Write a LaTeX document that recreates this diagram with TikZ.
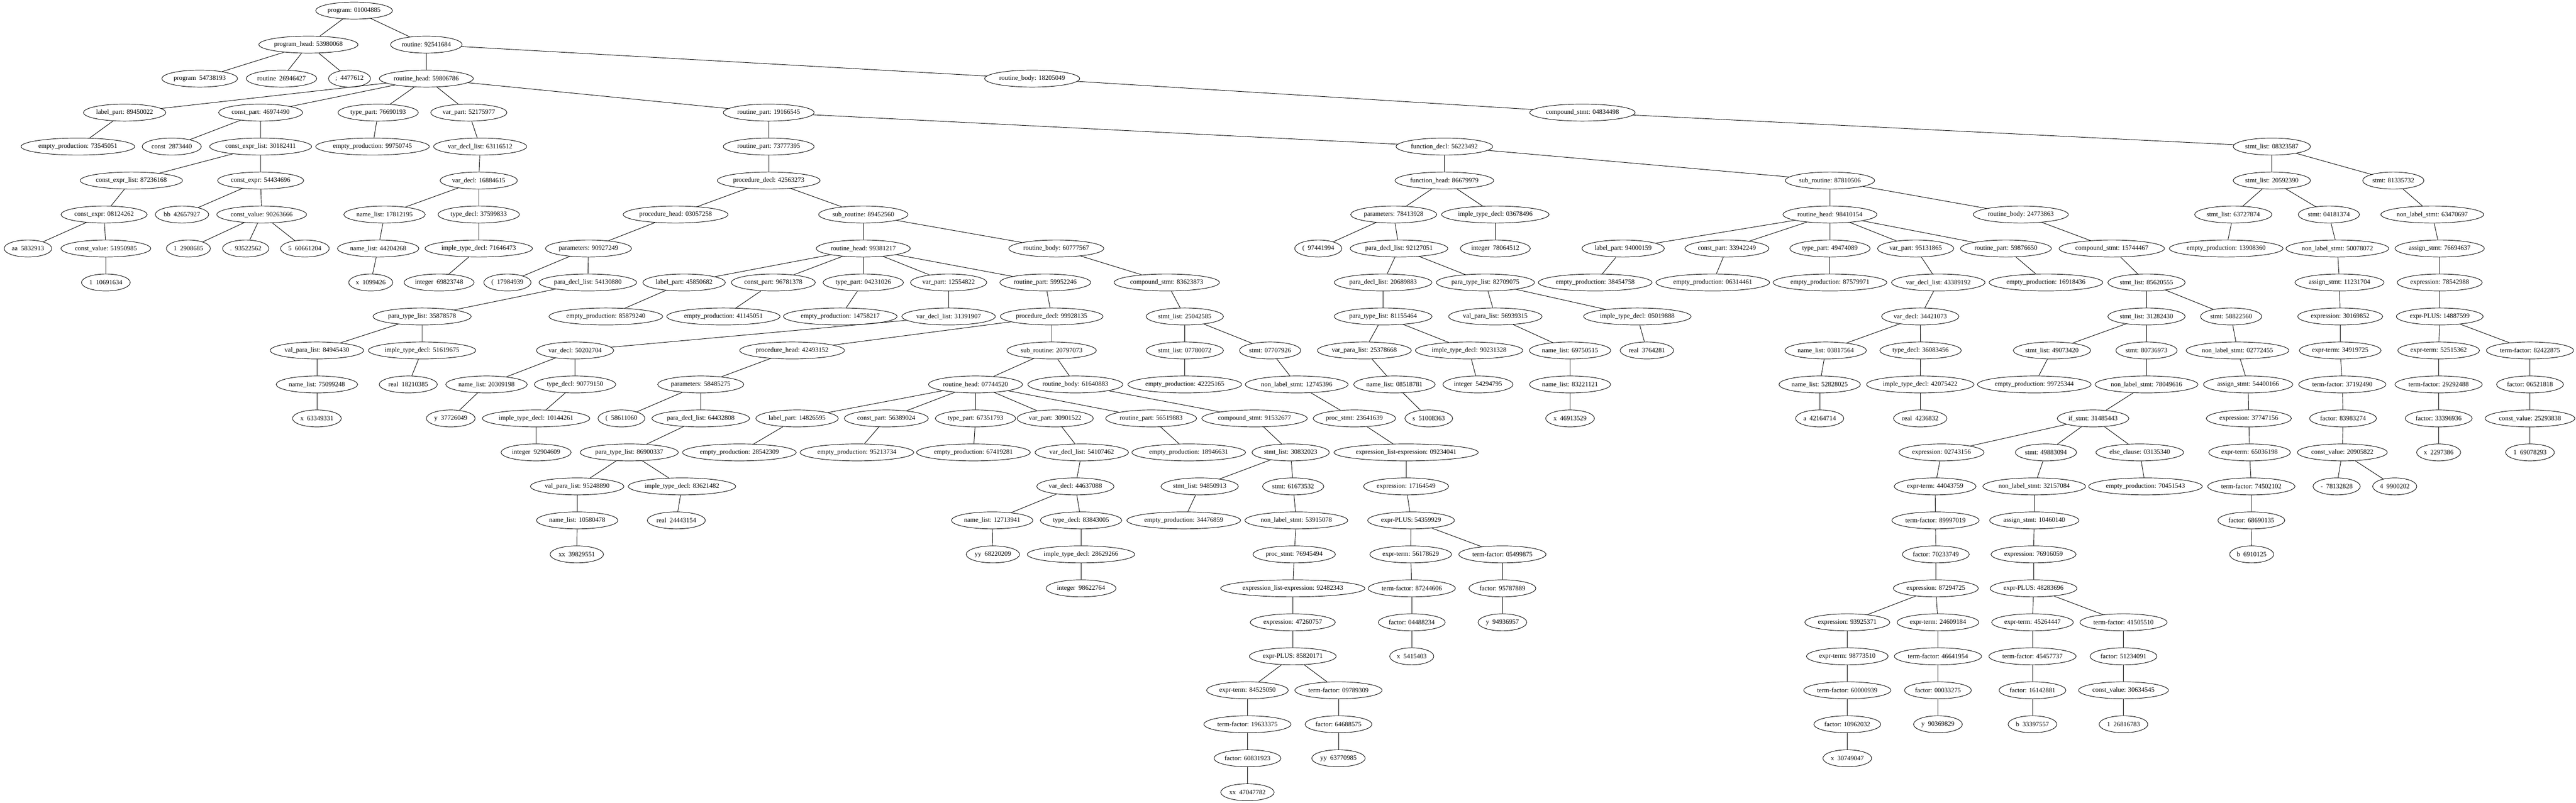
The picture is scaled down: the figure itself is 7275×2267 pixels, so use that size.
\documentclass[tikz,border=0pt]{standalone}
\usepackage{fontspec}
\setmainfont{Liberation Serif}
\usepackage{tikz}
\usetikzlibrary{shapes.geometric}

\begin{document}
\begin{tikzpicture}[x=0.75pt, y=-0.75pt,
	tn/.style={draw, ellipse, line width=1pt, inner xsep=1.5pt, inner ysep=0pt, minimum height=36pt, minimum width=54pt, font=\fontsize{14}{16}\selectfont},
	lk/.style={line width=1pt}]
			%%%%% START %%%%%
			\useasboundingbox (0, 0) rectangle (7275, 2267);
			
			% rank 0 - 2
			\node[tn] (n01004885) at (1000, 30) {program: 01004885};
			\node[tn] (n53980068) at (871, 126) {program\_head: 53980068};
			\node[tn] (n92541684) at (1204, 126) {routine: 92541684};
			\node[tn] (n54738193) at (564, 222) {program~~54738193};
			\node[tn] (n26946427) at (795, 222) {routine~~26946427};
			\node[tn] (n4477612) at (987, 222) {;~~4477612};
			\node[tn] (n59806786) at (1204, 222) {routine\_head: 59806786};
			\node[tn] (n18205049) at (2915, 222) {routine\_body: 18205049};
			
			% rank 3
			\node[tn] (n89450022) at (352, 318) {label\_part: 89450022};
			\node[tn] (n46974490) at (736, 318) {const\_part: 46974490};
			\node[tn] (n76690193) at (1068, 318) {type\_part: 76690193};
			\node[tn] (n52175977) at (1324, 318) {var\_part: 52175977};
			\node[tn] (n19166545) at (2171, 318) {routine\_part: 19166545};
			\node[tn] (n04834498) at (4469, 318) {compound\_stmt: 04834498};
			
			% rank 4
			\node[tn] (n73545051) at (220, 414) {empty\_production: 73545051};
			\node[tn] (n2873440) at (485, 414) {const~~2873440};
			\node[tn] (n30182411) at (736, 414) {const\_expr\_list: 30182411};
			\node[tn] (n99750745) at (1052, 414) {empty\_production: 99750745};
			\node[tn] (n63116512) at (1356, 414) {var\_decl\_list: 63116512};
			\node[tn] (n73777395) at (2171, 414) {routine\_part: 73777395};
			\node[tn] (n56223492) at (4079, 414) {function\_decl: 56223492};
			\node[tn] (n08323587) at (6416, 414) {stmt\_list: 08323587};
			
			% rank 5
			\node[tn] (n87236168) at (371, 510) {const\_expr\_list: 87236168};
			\node[tn] (n54434696) at (736, 510) {const\_expr: 54434696};
			\node[tn] (n16884615) at (1352, 510) {var\_decl: 16884615};
			\node[tn] (n42563273) at (2171, 510) {procedure\_decl: 42563273};
			\node[tn] (n86679979) at (4079, 510) {function\_head: 86679979};
			\node[tn] (n87810506) at (5168, 510) {sub\_routine: 87810506};
			\node[tn] (n20592390) at (6416, 510) {stmt\_list: 20592390};
			\node[tn] (n81335732) at (6759, 510) {stmt: 81335732};
			
			% rank 6
			\node[tn] (n08124262) at (294, 606) {const\_expr: 08124262};
			\node[tn] (n42657927) at (514, 606) {bb~~42657927};
			\node[tn] (n90263666) at (739, 606) {const\_value: 90263666};
			\node[tn] (n17812195) at (1086, 606) {name\_list: 17812195};
			\node[tn] (n37599833) at (1352, 606) {type\_decl: 37599833};
			\node[tn] (n03057258) at (1908, 606) {procedure\_head: 03057258};
			\node[tn] (n89452560) at (2438, 606) {sub\_routine: 89452560};
			\node[tn] (n78413928) at (3936, 606) {parameters: 78413928};
			\node[tn] (n03678496) at (4223, 606) {imple\_type\_decl: 03678496};
			\node[tn] (n98410154) at (5168, 606) {routine\_head: 98410154};
			\node[tn] (n24773863) at (5707, 606) {routine\_body: 24773863};
			\node[tn] (n63727874) at (6307, 606) {stmt\_list: 63727874};
			\node[tn] (n04181374) at (6577, 606) {stmt: 04181374};
			\node[tn] (n63470697) at (6869, 606) {non\_label\_stmt: 63470697};
			
			% rank 7
			\node[tn] (n5832913) at (79, 702) {aa~~5832913};
			\node[tn] (n51950985) at (299, 702) {const\_value: 51950985};
			\node[tn] (n2908685) at (532, 702) {1~~2908685};
			\node[tn] (n93522562) at (694, 702) {.~~93522562};
			\node[tn] (n60661204) at (861, 702) {5~~60661204};
			\node[tn] (n44204268) at (1068, 702) {name\_list: 44204268};
			\node[tn] (n71646473) at (1352, 702) {imple\_type\_decl: 71646473};
			\node[tn] (n90927249) at (1662, 702) {parameters: 90927249};
			\node[tn] (n99381217) at (2438, 702) {routine\_head: 99381217};
			\node[tn] (n60777567) at (2983, 702) {routine\_body: 60777567};
			\node[tn] (n97441994) at (3723, 702) {(~~97441994};
			\node[tn] (n92127051) at (3951, 702) {para\_decl\_list: 92127051};
			\node[tn] (n78064512) at (4223, 702) {integer~~78064512};
			\node[tn] (n94000159) at (4584, 702) {label\_part: 94000159};
			\node[tn] (n33942249) at (4877, 702) {const\_part: 33942249};
			\node[tn] (n49474089) at (5168, 702) {type\_part: 49474089};
			\node[tn] (n95131865) at (5410, 702) {var\_part: 95131865};
			\node[tn] (n59876650) at (5665, 702) {routine\_part: 59876650};
			\node[tn] (n15744467) at (5964, 702) {compound\_stmt: 15744467};
			\node[tn] (n13908360) at (6287, 702) {empty\_production: 13908360};
			\node[tn] (n50078072) at (6601, 702) {non\_label\_stmt: 50078072};
			\node[tn] (n76694637) at (6890, 702) {assign\_stmt: 76694637};
			
			% rank 8
			\node[tn] (n10691634) at (299, 798) {1~~10691634};
			\node[tn] (n1099426) at (1047, 798) {x~~1099426};
			\node[tn] (n69823748) at (1240, 798) {integer~~69823748};
			\node[tn] (n17984939) at (1433, 798) {(~~17984939};
			\node[tn] (n54130880) at (1660, 798) {para\_decl\_list: 54130880};
			\node[tn] (n45850682) at (1932, 798) {label\_part: 45850682};
			\node[tn] (n96781378) at (2184, 798) {const\_part: 96781378};
			\node[tn] (n04231026) at (2438, 798) {type\_part: 04231026};
			\node[tn] (n12554822) at (2679, 798) {var\_part: 12554822};
			\node[tn] (n59952246) at (2952, 798) {routine\_part: 59952246};
			\node[tn] (n83623873) at (3295, 798) {compound\_stmt: 83623873};
			\node[tn] (n20689883) at (3906, 798) {para\_decl\_list: 20689883};
			\node[tn] (n82709075) at (4195, 798) {para\_type\_list: 82709075};
			\node[tn] (n38454758) at (4505, 798) {empty\_production: 38454758};
			\node[tn] (n06314461) at (4837, 798) {empty\_production: 06314461};
			\node[tn] (n87579971) at (5168, 798) {empty\_production: 87579971};
			\node[tn] (n43389192) at (5474, 798) {var\_decl\_list: 43389192};
			\node[tn] (n16918436) at (5778, 798) {empty\_production: 16918436};
			\node[tn] (n85620555) at (6062, 798) {stmt\_list: 85620555};
			\node[tn] (n11231704) at (6607, 798) {assign\_stmt: 11231704};
			\node[tn] (n78542988) at (6890, 798) {expression: 78542988};
			
			% rank 9
			\node[tn] (n35878578) at (1192, 894) {para\_type\_list: 35878578};
			\node[tn] (n85879240) at (1711, 894) {empty\_production: 85879240};
			\node[tn] (n41145051) at (2043, 894) {empty\_production: 41145051};
			\node[tn] (n14758217) at (2373, 894) {empty\_production: 14758217};
			\node[tn] (n31391907) at (2679, 894) {var\_decl\_list: 31391907};
			\node[tn] (n99928135) at (2970, 894) {procedure\_decl: 99928135};
			\node[tn] (n25042585) at (3346, 894) {stmt\_list: 25042585};
			\node[tn] (n81155464) at (3906, 894) {para\_type\_list: 81155464};
			\node[tn] (n56939315) at (4223, 894) {val\_para\_list: 56939315};
			\node[tn] (n05019888) at (4624, 894) {imple\_type\_decl: 05019888};
			\node[tn] (n34421073) at (5423, 894) {var\_decl: 34421073};
			\node[tn] (n31282430) at (6062, 894) {stmt\_list: 31282430};
			\node[tn] (n58822560) at (6301, 894) {stmt: 58822560};
			\node[tn] (n30169852) at (6609, 894) {expression: 30169852};
			\node[tn] (n14887599) at (6890, 894) {expr-PLUS: 14887599};
			
			% rank 10
			\node[tn] (n84945430) at (895, 990) {val\_para\_list: 84945430};
			\node[tn] (n51619675) at (1192, 990) {imple\_type\_decl: 51619675};
			\node[tn] (n50202704) at (1624, 990) {var\_decl: 50202704};
			\node[tn] (n42493152) at (2237, 990) {procedure\_head: 42493152};
			\node[tn] (n20797073) at (2970, 990) {sub\_routine: 20797073};
			\node[tn] (n07780072) at (3346, 990) {stmt\_list: 07780072};
			\node[tn] (n07707926) at (3587, 990) {stmt: 07707926};
			\node[tn] (n25378668) at (3853, 990) {var\_para\_list: 25378668};
			\node[tn] (n90231328) at (4149, 990) {imple\_type\_decl: 90231328};
			\node[tn] (n69750515) at (4434, 990) {name\_list: 69750515};
			\node[tn] (n3764281) at (4651, 990) {real~~3764281};
			\node[tn] (n03817564) at (5156, 990) {name\_list: 03817564};
			\node[tn] (n36083456) at (5424, 990) {type\_decl: 36083456};
			\node[tn] (n49073420) at (5795, 990) {stmt\_list: 49073420};
			\node[tn] (n80736973) at (6062, 990) {stmt: 80736973};
			\node[tn] (n02772455) at (6319, 990) {non\_label\_stmt: 02772455};
			\node[tn] (n34919725) at (6609, 990) {expr-term: 34919725};
			\node[tn] (n52515362) at (6887, 990) {expr-term: 52515362};
			\node[tn] (n82422875) at (7145, 990) {term-factor: 82422875};
			
			% rank 11
			\node[tn] (n75099248) at (895, 1086) {name\_list: 75099248};
			\node[tn] (n18210385) at (1153, 1086) {real~~18210385};
			\node[tn] (n20309198) at (1374, 1086) {name\_list: 20309198};
			\node[tn] (n90779150) at (1624, 1086) {type\_decl: 90779150};
			\node[tn] (n58485275) at (1979, 1086) {parameters: 58485275};
			\node[tn] (n07744520) at (2755, 1086) {routine\_head: 07744520};
			\node[tn] (n61640883) at (3037, 1086) {routine\_body: 61640883};
			\node[tn] (n42225165) at (3346, 1086) {empty\_production: 42225165};
			\node[tn] (n12745396) at (3662, 1086) {non\_label\_stmt: 12745396};
			\node[tn] (n08518781) at (3938, 1086) {name\_list: 08518781};
			\node[tn] (n54294795) at (4174, 1086) {integer~~54294795};
			\node[tn] (n83221121) at (4434, 1086) {name\_list: 83221121};
			\node[tn] (n52828025) at (5139, 1086) {name\_list: 52828025};
			\node[tn] (n42075422) at (5423, 1086) {imple\_type\_decl: 42075422};
			\node[tn] (n99725344) at (5745, 1086) {empty\_production: 99725344};
			\node[tn] (n78049616) at (6062, 1086) {non\_label\_stmt: 78049616};
			\node[tn] (n54400166) at (6349, 1086) {assign\_stmt: 54400166};
			\node[tn] (n37192490) at (6615, 1086) {term-factor: 37192490};
			\node[tn] (n29292488) at (6887, 1086) {term-factor: 29292488};
			\node[tn] (n06521818) at (7145, 1086) {factor: 06521818};
			
			% rank 12
			\node[tn] (n63349331) at (895, 1182) {x~~63349331};
			\node[tn] (n37726049) at (1273, 1182) {y~~37726049};
			\node[tn] (n10144261) at (1514, 1182) {imple\_type\_decl: 10144261};
			\node[tn] (n58611060) at (1755, 1182) {(~~58611060};
			\node[tn] (n64432808) at (1979, 1182) {para\_decl\_list: 64432808};
			\node[tn] (n14826595) at (2251, 1182) {label\_part: 14826595};
			\node[tn] (n56389024) at (2503, 1182) {const\_part: 56389024};
			\node[tn] (n67351793) at (2755, 1182) {type\_part: 67351793};
			\node[tn] (n30901522) at (2980, 1182) {var\_part: 30901522};
			\node[tn] (n56519883) at (3251, 1182) {routine\_part: 56519883};
			\node[tn] (n91532677) at (3543, 1182) {compound\_stmt: 91532677};
			\node[tn] (n23641639) at (3825, 1182) {proc\_stmt: 23641639};
			\node[tn] (n51008363) at (4035, 1182) {s~~51008363};
			\node[tn] (n46913529) at (4434, 1182) {x~~46913529};
			\node[tn] (n42164714) at (5139, 1182) {a~~42164714};
			\node[tn] (n4236832) at (5423, 1182) {real~~4236832};
			\node[tn] (n31485443) at (5911, 1182) {if\_stmt: 31485443};
			\node[tn] (n37747156) at (6351, 1182) {expression: 37747156};
			\node[tn] (n83983274) at (6617, 1182) {factor: 83983274};
			\node[tn] (n33396936) at (6887, 1182) {factor: 33396936};
			\node[tn] (n25293838) at (7145, 1182) {const\_value: 25293838};
			
			% rank 13
			\node[tn] (n92904609) at (1514, 1278) {integer~~92904609};
			\node[tn] (n86900337) at (1777, 1278) {para\_type\_list: 86900337};
			\node[tn] (n28542309) at (2088, 1278) {empty\_production: 28542309};
			\node[tn] (n95213734) at (2420, 1278) {empty\_production: 95213734};
			\node[tn] (n67419281) at (2749, 1278) {empty\_production: 67419281};
			\node[tn] (n54107462) at (3055, 1278) {var\_decl\_list: 54107462};
			\node[tn] (n18946631) at (3357, 1278) {empty\_production: 18946631};
			\node[tn] (n30832023) at (3645, 1278) {stmt\_list: 30832023};
			\node[tn] (n09234041) at (3971, 1278) {expression\_list-expression: 09234041};
			\node[tn] (n02743156) at (5483, 1278) {expression: 02743156};
			\node[tn] (n49883094) at (5778, 1278) {stmt: 49883094};
			\node[tn] (n03135340) at (6043, 1278) {else\_clause: 03135340};
			\node[tn] (n65036198) at (6353, 1278) {expr-term: 65036198};
			\node[tn] (n20905822) at (6615, 1278) {const\_value: 20905822};
			\node[tn] (n2297386) at (6887, 1278) {x~~2297386};
			\node[tn] (n69078293) at (7145, 1278) {1~~69078293};
			
			% rank 14
			\node[tn] (n95248890) at (1630, 1374) {val\_para\_list: 95248890};
			\node[tn] (n83621482) at (1926, 1374) {imple\_type\_decl: 83621482};
			\node[tn] (n44637088) at (3037, 1374) {var\_decl: 44637088};
			\node[tn] (n94850913) at (3388, 1374) {stmt\_list: 94850913};
			\node[tn] (n61673532) at (3652, 1374) {stmt: 61673532};
			\node[tn] (n17164549) at (3971, 1374) {expression: 17164549};
			\node[tn] (n44043759) at (5465, 1374) {expr-term: 44043759};
			\node[tn] (n32157084) at (5745, 1374) {non\_label\_stmt: 32157084};
			\node[tn] (n70451543) at (6059, 1374) {empty\_production: 70451543};
			\node[tn] (n74502102) at (6358, 1374) {term-factor: 74502102};
			\node[tn] (n78132828) at (6599, 1374) {-~~78132828};
			\node[tn] (n9900202) at (6763, 1374) {4~~9900202};
			
			% rank 15
			\node[tn] (n10580478) at (1630, 1470) {name\_list: 10580478};
			\node[tn] (n24443154) at (1910, 1470) {real~~24443154};
			\node[tn] (n12713941) at (2802, 1470) {name\_list: 12713941};
			\node[tn] (n83843005) at (3053, 1470) {type\_decl: 83843005};
			\node[tn] (n34476859) at (3343, 1470) {empty\_production: 34476859};
			\node[tn] (n53915078) at (3661, 1470) {non\_label\_stmt: 53915078};
			\node[tn] (n54359929) at (3985, 1470) {expr-PLUS: 54359929};
			\node[tn] (n89997019) at (5466, 1470) {term-factor: 89997019};
			\node[tn] (n10460140) at (5745, 1470) {assign\_stmt: 10460140};
			\node[tn] (n68690135) at (6358, 1470) {factor: 68690135};
			
			% rank 16
			\node[tn] (n39829551) at (1629, 1566) {xx~~39829551};
			\node[tn] (n68220209) at (2804, 1566) {yy~~68220209};
			\node[tn] (n28629266) at (3053, 1566) {imple\_type\_decl: 28629266};
			\node[tn] (n76945494) at (3655, 1566) {proc\_stmt: 76945494};
			\node[tn] (n56178629) at (3984, 1566) {expr-term: 56178629};
			\node[tn] (n05499875) at (4243, 1566) {term-factor: 05499875};
			\node[tn] (n70233749) at (5467, 1566) {factor: 70233749};
			\node[tn] (n76916059) at (5743, 1566) {expression: 76916059};
			\node[tn] (n6910125) at (6359, 1566) {b~~6910125};
			
			% rank 17 - 23
			\node[tn] (n98622764) at (3053, 1662) {integer~~98622764};
			\node[tn] (n92482343) at (3651, 1662) {expression\_list-expression: 92482343};
			\node[tn] (n87244606) at (3987, 1662) {term-factor: 87244606};
			\node[tn] (n95787889) at (4243, 1662) {factor: 95787889};
			\node[tn] (n87294725) at (5467, 1662) {expression: 87294725};
			\node[tn] (n48283696) at (5743, 1662) {expr-PLUS: 48283696};
			
			\node[tn] (n47260757) at (3651, 1758) {expression: 47260757};
			\node[tn] (n04488234) at (3987, 1758) {factor: 04488234};
			\node[tn] (n94936957) at (4243, 1758) {y~~94936957};
			\node[tn] (n93925371) at (5217, 1758) {expression: 93925371};
			\node[tn] (n24609184) at (5473, 1758) {expr-term: 24609184};
			\node[tn] (n45264447) at (5740, 1758) {expr-term: 45264447};
			\node[tn] (n41505510) at (5997, 1758) {term-factor: 41505510};
			
			\node[tn] (n85820171) at (3651, 1854) {expr-PLUS: 85820171};
			\node[tn] (n5415403) at (3987, 1854) {x~~5415403};
			\node[tn] (n98773510) at (5217, 1854) {expr-term: 98773510};
			\node[tn] (n46641954) at (5473, 1854) {term-factor: 46641954};
			\node[tn] (n45457737) at (5740, 1854) {term-factor: 45457737};
			\node[tn] (n51234091) at (5997, 1854) {factor: 51234091};
			
			\node[tn] (n84525050) at (3523, 1950) {expr-term: 84525050};
			\node[tn] (n09789309) at (3780, 1950) {term-factor: 09789309};
			\node[tn] (n60000939) at (5217, 1950) {term-factor: 60000939};
			\node[tn] (n00033275) at (5473, 1950) {factor: 00033275};
			\node[tn] (n16142881) at (5740, 1950) {factor: 16142881};
			\node[tn] (n30634545) at (5997, 1950) {const\_value: 30634545};
			
			\node[tn] (n19633375) at (3523, 2046) {term-factor: 19633375};
			\node[tn] (n64688575) at (3780, 2046) {factor: 64688575};
			\node[tn] (n10962032) at (5217, 2046) {factor: 10962032};
			\node[tn] (n90369829) at (5473, 2046) {y~~90369829};
			\node[tn] (n33397557) at (5740, 2046) {b~~33397557};
			\node[tn] (n26816783) at (5997, 2046) {1~~26816783};
			
			\node[tn] (n60831923) at (3523, 2142) {factor: 60831923};
			\node[tn] (n63770985) at (3780, 2142) {yy~~63770985};
			\node[tn] (n30749047) at (5217, 2142) {x~~30749047};
			\node[tn] (n47047782) at (3523, 2238) {xx~~47047782};
			
			% edges, parent to children
			\draw[lk] (n01004885) -- (n53980068) (n01004885) -- (n92541684);
			\draw[lk] (n53980068) -- (n54738193) (n53980068) -- (n26946427) (n53980068) -- (n4477612);
			\draw[lk] (n92541684) -- (n59806786) (n92541684) -- (n18205049);
			\draw[lk] (n59806786) -- (n89450022) (n59806786) -- (n46974490) (n59806786) -- (n76690193) (n59806786) -- (n52175977) (n59806786) -- (n19166545);
			\draw[lk] (n18205049) -- (n04834498);
			\draw[lk] (n89450022) -- (n73545051);
			\draw[lk] (n46974490) -- (n2873440) (n46974490) -- (n30182411);
			\draw[lk] (n76690193) -- (n99750745);
			\draw[lk] (n52175977) -- (n63116512);
			\draw[lk] (n19166545) -- (n73777395) (n19166545) -- (n56223492);
			\draw[lk] (n04834498) -- (n08323587);
			\draw[lk] (n30182411) -- (n87236168) (n30182411) -- (n54434696);
			\draw[lk] (n63116512) -- (n16884615);
			\draw[lk] (n73777395) -- (n42563273);
			\draw[lk] (n56223492) -- (n86679979) (n56223492) -- (n87810506);
			\draw[lk] (n08323587) -- (n20592390) (n08323587) -- (n81335732);
			\draw[lk] (n87236168) -- (n08124262);
			\draw[lk] (n54434696) -- (n42657927) (n54434696) -- (n90263666);
			\draw[lk] (n16884615) -- (n17812195) (n16884615) -- (n37599833);
			\draw[lk] (n42563273) -- (n03057258) (n42563273) -- (n89452560);
			\draw[lk] (n86679979) -- (n78413928) (n86679979) -- (n03678496);
			\draw[lk] (n87810506) -- (n98410154) (n87810506) -- (n24773863);
			\draw[lk] (n20592390) -- (n63727874) (n20592390) -- (n04181374);
			\draw[lk] (n81335732) -- (n63470697);
			\draw[lk] (n08124262) -- (n5832913) (n08124262) -- (n51950985);
			\draw[lk] (n90263666) -- (n2908685) (n90263666) -- (n93522562) (n90263666) -- (n60661204);
			\draw[lk] (n17812195) -- (n44204268);
			\draw[lk] (n37599833) -- (n71646473);
			\draw[lk] (n03057258) -- (n90927249);
			\draw[lk] (n89452560) -- (n99381217) (n89452560) -- (n60777567);
			\draw[lk] (n78413928) -- (n97441994) (n78413928) -- (n92127051);
			\draw[lk] (n03678496) -- (n78064512);
			\draw[lk] (n98410154) -- (n94000159) (n98410154) -- (n33942249) (n98410154) -- (n49474089) (n98410154) -- (n95131865) (n98410154) -- (n59876650);
			\draw[lk] (n24773863) -- (n15744467);
			\draw[lk] (n63727874) -- (n13908360);
			\draw[lk] (n04181374) -- (n50078072);
			\draw[lk] (n63470697) -- (n76694637);
			\draw[lk] (n51950985) -- (n10691634);
			\draw[lk] (n44204268) -- (n1099426);
			\draw[lk] (n71646473) -- (n69823748);
			\draw[lk] (n90927249) -- (n17984939) (n90927249) -- (n54130880);
			\draw[lk] (n99381217) -- (n45850682) (n99381217) -- (n96781378) (n99381217) -- (n04231026) (n99381217) -- (n12554822) (n99381217) -- (n59952246);
			\draw[lk] (n60777567) -- (n83623873);
			\draw[lk] (n92127051) -- (n20689883) (n92127051) -- (n82709075);
			\draw[lk] (n94000159) -- (n38454758);
			\draw[lk] (n33942249) -- (n06314461);
			\draw[lk] (n49474089) -- (n87579971);
			\draw[lk] (n95131865) -- (n43389192);
			\draw[lk] (n59876650) -- (n16918436);
			\draw[lk] (n15744467) -- (n85620555);
			\draw[lk] (n50078072) -- (n11231704);
			\draw[lk] (n76694637) -- (n78542988);
			\draw[lk] (n54130880) -- (n35878578);
			\draw[lk] (n45850682) -- (n85879240);
			\draw[lk] (n96781378) -- (n41145051);
			\draw[lk] (n04231026) -- (n14758217);
			\draw[lk] (n12554822) -- (n31391907);
			\draw[lk] (n59952246) -- (n99928135);
			\draw[lk] (n83623873) -- (n25042585);
			\draw[lk] (n20689883) -- (n81155464);
			\draw[lk] (n82709075) -- (n56939315) (n82709075) -- (n05019888);
			\draw[lk] (n43389192) -- (n34421073);
			\draw[lk] (n85620555) -- (n31282430) (n85620555) -- (n58822560);
			\draw[lk] (n11231704) -- (n30169852);
			\draw[lk] (n78542988) -- (n14887599);
			\draw[lk] (n35878578) -- (n84945430) (n35878578) -- (n51619675);
			\draw[lk] (n31391907) -- (n50202704);
			\draw[lk] (n99928135) -- (n42493152) (n99928135) -- (n20797073);
			\draw[lk] (n25042585) -- (n07780072) (n25042585) -- (n07707926);
			\draw[lk] (n81155464) -- (n25378668) (n81155464) -- (n90231328);
			\draw[lk] (n56939315) -- (n69750515);
			\draw[lk] (n05019888) -- (n3764281);
			\draw[lk] (n34421073) -- (n03817564) (n34421073) -- (n36083456);
			\draw[lk] (n31282430) -- (n49073420) (n31282430) -- (n80736973);
			\draw[lk] (n58822560) -- (n02772455);
			\draw[lk] (n30169852) -- (n34919725);
			\draw[lk] (n14887599) -- (n52515362) (n14887599) -- (n82422875);
			\draw[lk] (n84945430) -- (n75099248);
			\draw[lk] (n51619675) -- (n18210385);
			\draw[lk] (n50202704) -- (n20309198) (n50202704) -- (n90779150);
			\draw[lk] (n42493152) -- (n58485275);
			\draw[lk] (n20797073) -- (n07744520) (n20797073) -- (n61640883);
			\draw[lk] (n07780072) -- (n42225165);
			\draw[lk] (n07707926) -- (n12745396);
			\draw[lk] (n25378668) -- (n08518781);
			\draw[lk] (n90231328) -- (n54294795);
			\draw[lk] (n69750515) -- (n83221121);
			\draw[lk] (n03817564) -- (n52828025);
			\draw[lk] (n36083456) -- (n42075422);
			\draw[lk] (n49073420) -- (n99725344);
			\draw[lk] (n80736973) -- (n78049616);
			\draw[lk] (n02772455) -- (n54400166);
			\draw[lk] (n34919725) -- (n37192490);
			\draw[lk] (n52515362) -- (n29292488);
			\draw[lk] (n82422875) -- (n06521818);
			\draw[lk] (n75099248) -- (n63349331);
			\draw[lk] (n20309198) -- (n37726049);
			\draw[lk] (n90779150) -- (n10144261);
			\draw[lk] (n58485275) -- (n58611060) (n58485275) -- (n64432808);
			\draw[lk] (n07744520) -- (n14826595) (n07744520) -- (n56389024) (n07744520) -- (n67351793) (n07744520) -- (n30901522) (n07744520) -- (n56519883);
			\draw[lk] (n61640883) -- (n91532677);
			\draw[lk] (n12745396) -- (n23641639);
			\draw[lk] (n08518781) -- (n51008363);
			\draw[lk] (n83221121) -- (n46913529);
			\draw[lk] (n52828025) -- (n42164714);
			\draw[lk] (n42075422) -- (n4236832);
			\draw[lk] (n78049616) -- (n31485443);
			\draw[lk] (n54400166) -- (n37747156);
			\draw[lk] (n37192490) -- (n83983274);
			\draw[lk] (n29292488) -- (n33396936);
			\draw[lk] (n06521818) -- (n25293838);
			\draw[lk] (n10144261) -- (n92904609);
			\draw[lk] (n64432808) -- (n86900337);
			\draw[lk] (n14826595) -- (n28542309);
			\draw[lk] (n56389024) -- (n95213734);
			\draw[lk] (n67351793) -- (n67419281);
			\draw[lk] (n30901522) -- (n54107462);
			\draw[lk] (n56519883) -- (n18946631);
			\draw[lk] (n91532677) -- (n30832023);
			\draw[lk] (n23641639) -- (n09234041);
			\draw[lk] (n31485443) -- (n02743156) (n31485443) -- (n49883094) (n31485443) -- (n03135340);
			\draw[lk] (n37747156) -- (n65036198);
			\draw[lk] (n83983274) -- (n20905822);
			\draw[lk] (n33396936) -- (n2297386);
			\draw[lk] (n25293838) -- (n69078293);
			\draw[lk] (n86900337) -- (n95248890) (n86900337) -- (n83621482);
			\draw[lk] (n54107462) -- (n44637088);
			\draw[lk] (n30832023) -- (n94850913) (n30832023) -- (n61673532);
			\draw[lk] (n09234041) -- (n17164549);
			\draw[lk] (n02743156) -- (n44043759);
			\draw[lk] (n49883094) -- (n32157084);
			\draw[lk] (n03135340) -- (n70451543);
			\draw[lk] (n65036198) -- (n74502102);
			\draw[lk] (n20905822) -- (n78132828) (n20905822) -- (n9900202);
			\draw[lk] (n95248890) -- (n10580478);
			\draw[lk] (n83621482) -- (n24443154);
			\draw[lk] (n44637088) -- (n12713941) (n44637088) -- (n83843005);
			\draw[lk] (n94850913) -- (n34476859);
			\draw[lk] (n61673532) -- (n53915078);
			\draw[lk] (n17164549) -- (n54359929);
			\draw[lk] (n44043759) -- (n89997019);
			\draw[lk] (n32157084) -- (n10460140);
			\draw[lk] (n74502102) -- (n68690135);
			\draw[lk] (n10580478) -- (n39829551);
			\draw[lk] (n12713941) -- (n68220209);
			\draw[lk] (n83843005) -- (n28629266);
			\draw[lk] (n53915078) -- (n76945494);
			\draw[lk] (n54359929) -- (n56178629) (n54359929) -- (n05499875);
			\draw[lk] (n89997019) -- (n70233749);
			\draw[lk] (n10460140) -- (n76916059);
			\draw[lk] (n68690135) -- (n6910125);
			\draw[lk] (n28629266) -- (n98622764);
			\draw[lk] (n76945494) -- (n92482343);
			\draw[lk] (n56178629) -- (n87244606);
			\draw[lk] (n05499875) -- (n95787889);
			\draw[lk] (n70233749) -- (n87294725);
			\draw[lk] (n76916059) -- (n48283696);
			\draw[lk] (n92482343) -- (n47260757);
			\draw[lk] (n87244606) -- (n04488234);
			\draw[lk] (n95787889) -- (n94936957);
			\draw[lk] (n87294725) -- (n93925371) (n87294725) -- (n24609184);
			\draw[lk] (n48283696) -- (n45264447) (n48283696) -- (n41505510);
			\draw[lk] (n47260757) -- (n85820171);
			\draw[lk] (n04488234) -- (n5415403);
			\draw[lk] (n93925371) -- (n98773510);
			\draw[lk] (n24609184) -- (n46641954);
			\draw[lk] (n45264447) -- (n45457737);
			\draw[lk] (n41505510) -- (n51234091);
			\draw[lk] (n85820171) -- (n84525050) (n85820171) -- (n09789309);
			\draw[lk] (n98773510) -- (n60000939);
			\draw[lk] (n46641954) -- (n00033275);
			\draw[lk] (n45457737) -- (n16142881);
			\draw[lk] (n51234091) -- (n30634545);
			\draw[lk] (n84525050) -- (n19633375);
			\draw[lk] (n09789309) -- (n64688575);
			\draw[lk] (n60000939) -- (n10962032);
			\draw[lk] (n00033275) -- (n90369829);
			\draw[lk] (n16142881) -- (n33397557);
			\draw[lk] (n30634545) -- (n26816783);
			\draw[lk] (n19633375) -- (n60831923);
			\draw[lk] (n64688575) -- (n63770985);
			\draw[lk] (n10962032) -- (n30749047);
			\draw[lk] (n60831923) -- (n47047782);
			
			%%%%% END %%%%%
		\end{tikzpicture}
\end{document}
